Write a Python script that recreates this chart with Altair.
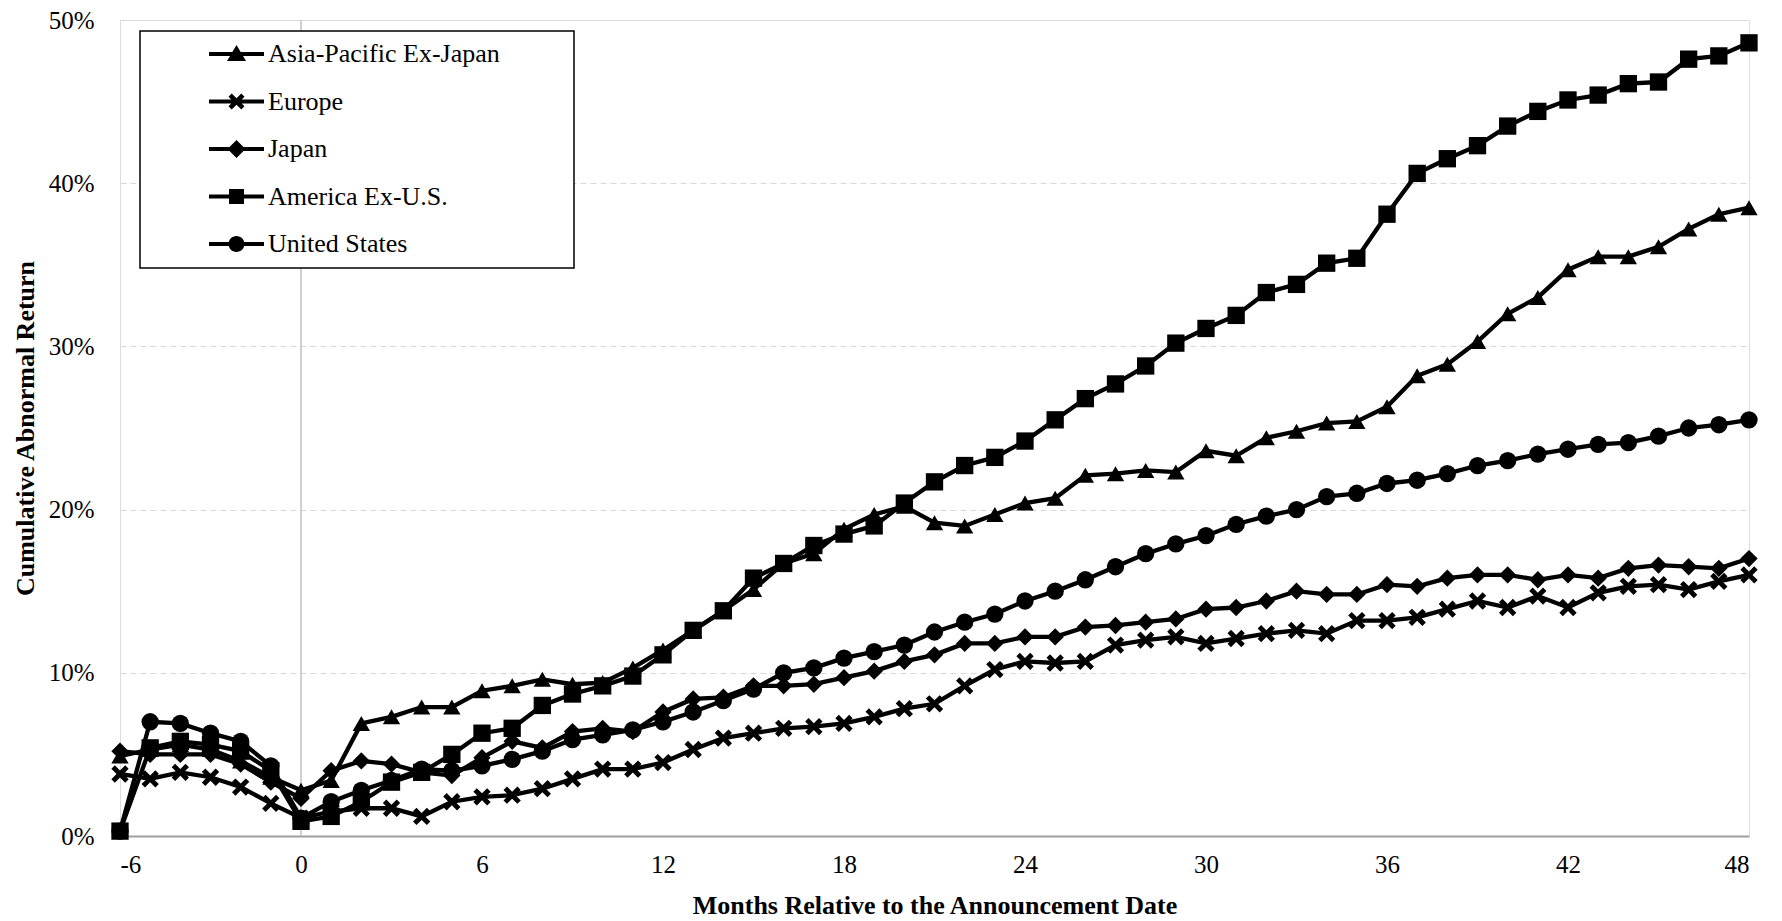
import altair as alt
import pandas as pd

months = list(range(-6, 49))
series_names = ["Asia-Pacific Ex-Japan", "Europe", "Japan", "America Ex-U.S.", "United States"]

asia = [4.9, 5.3, 5.6, 5.3, 4.6, 3.6,
        2.8, 3.4, 6.9, 7.3, 7.9, 7.9, 8.9, 9.2, 9.6, 9.3,
        9.4, 10.3, 11.4, 12.6, 13.8, 15.1, 16.7, 17.3, 18.8, 19.7,
        20.2, 19.2, 19.0, 19.7, 20.4, 20.7, 22.1, 22.2, 22.4, 22.3,
        23.6, 23.3, 24.4, 24.8, 25.3, 25.4, 26.3, 28.2, 28.9, 30.3,
        32.0, 33.0, 34.7, 35.5, 35.5, 36.1, 37.2, 38.1, 38.5]
europe = [3.8, 3.5, 3.9, 3.6, 3.0, 2.0,
          1.1, 1.5, 1.7, 1.7, 1.2, 2.1, 2.4, 2.5, 2.9, 3.5,
          4.1, 4.1, 4.5, 5.3, 6.0, 6.3, 6.6, 6.7, 6.9, 7.3,
          7.8, 8.1, 9.2, 10.2, 10.7, 10.6, 10.7, 11.7, 12.0, 12.2,
          11.8, 12.1, 12.4, 12.6, 12.4, 13.2, 13.2, 13.4, 13.9, 14.4,
          14.0, 14.7, 14.0, 14.9, 15.3, 15.4, 15.1, 15.6, 16.0]
japan = [5.2, 5.0, 5.0, 5.0, 4.4, 3.3,
         2.3, 4.0, 4.6, 4.4, 3.9, 3.7, 4.8, 5.8, 5.4, 6.4,
         6.6, 6.4, 7.6, 8.4, 8.5, 9.2, 9.2, 9.3, 9.7, 10.1,
         10.7, 11.1, 11.8, 11.8, 12.2, 12.2, 12.8, 12.9, 13.1, 13.3,
         13.9, 14.0, 14.4, 15.0, 14.8, 14.8, 15.4, 15.3, 15.8, 16.0,
         16.0, 15.7, 16.0, 15.8, 16.4, 16.6, 16.5, 16.4, 17.0]
america = [0.3, 5.4, 5.8, 5.6, 5.2, 4.0,
           0.9, 1.2, 2.1, 3.3, 3.9, 5.0, 6.3, 6.6, 8.0, 8.7,
           9.2, 9.8, 11.1, 12.6, 13.8, 15.8, 16.7, 17.8, 18.5, 19.0,
           20.4, 21.7, 22.7, 23.2, 24.2, 25.5, 26.8, 27.7, 28.8, 30.2,
           31.1, 31.9, 33.3, 33.8, 35.1, 35.4, 38.1, 40.6, 41.5, 42.3,
           43.5, 44.4, 45.1, 45.4, 46.1, 46.2, 47.6, 47.8, 48.6]
us = [0.3, 7.0, 6.9, 6.3, 5.8, 4.3,
      1.1, 2.1, 2.8, 3.4, 4.1, 4.0, 4.3, 4.7, 5.2, 5.9,
      6.2, 6.5, 7.0, 7.6, 8.3, 9.0, 10.0, 10.3, 10.9, 11.3,
      11.7, 12.5, 13.1, 13.6, 14.4, 15.0, 15.7, 16.5, 17.3, 17.9,
      18.4, 19.1, 19.6, 20.0, 20.8, 21.0, 21.6, 21.8, 22.2, 22.7,
      23.0, 23.4, 23.7, 24.0, 24.1, 24.5, 25.0, 25.2, 25.5]

x_ticks = list(range(-6, 49, 6))
y_ticks = [0, 10, 20, 30, 40, 50]

rows = []
for name, vals in zip(series_names, [asia, europe, japan, america, us]):
    for m, v in zip(months, vals):
        rows.append({"month": m, "value": v, "series": name})
df = pd.DataFrame(rows)

FONT = "Liberation Serif, Times New Roman, Tinos, DejaVu Serif, serif"

X_PATH = "M-1,-0.6L-0.6,-1L0,-0.4L0.6,-1L1,-0.6L0.4,0L1,0.6L0.6,1L0,0.4L-0.6,1L-1,0.6L-0.4,0Z"
point_shapes = ["triangle-up", X_PATH, "diamond", "square", "circle"]

LINE = "M-2.75,-0.2H2.75V0.2H-2.75Z"
leg_markers = [
    "M0,-0.9L0.95,0.7L-0.95,0.7Z",
    "M-0.8,-0.48L-0.48,-0.8L0,-0.32L0.48,-0.8L0.8,-0.48L0.32,0L0.8,0.48L0.48,0.8L0,0.32L-0.48,0.8L-0.8,0.48L-0.32,0Z",
    "M0,-0.9L0.9,0L0,0.9L-0.9,0Z",
    "M-0.75,-0.75H0.75V0.75H-0.75Z",
    "M-0.8,0A0.8,0.8,0,1,1,0.8,0A0.8,0.8,0,1,1,-0.8,0Z",
]
legend_shapes = [LINE + mk for mk in leg_markers]

x_enc = alt.X(
    "month:Q",
    scale=alt.Scale(domain=[-6, 48], nice=False, zero=False),
    axis=alt.Axis(
        values=x_ticks, labelExpr="'' + datum.value",
        title="Months Relative to the Announcement Date",
        grid=False, ticks=False, domainColor="#a0a0a0", domainWidth=2,
        labelFont=FONT, labelFontSize=25, labelColor="black", labelPadding=16,
        labelAngle=0, titleFont=FONT, titleFontSize=26, titleFontWeight="bold",
        titleColor="black", titleY=77, titleBaseline="alphabetic",
    ),
)
y_enc = alt.Y(
    "value:Q",
    scale=alt.Scale(domain=[0, 50], nice=False),
    axis=alt.Axis(
        values=y_ticks, labelExpr="datum.value + '%'", domain=False, ticks=False,
        grid=True, gridColor="#d9d9d9", gridDash=[6, 4], gridWidth=1,
        labelFont=FONT, labelFontSize=25, labelColor="black", labelPadding=26,
        title="Cumulative Abnormal Return", titleFont=FONT, titleFontSize=26,
        titleFontWeight="bold", titleColor="black", titleX=-95, titleY=408,
        titleBaseline="middle", titleAlign="center", titleAngle=270,
    ),
)

zero_rule = alt.Chart(pd.DataFrame({"month": [0]})).mark_rule(
    color="#c0c0c0", strokeWidth=1.5
).encode(x="month:Q")

legend_frame = alt.Chart(pd.DataFrame({"k": [0]})).mark_rect(
    fill="white", stroke="black", strokeWidth=1.5
).encode(x=alt.value(20), x2=alt.value(454), y=alt.value(11), y2=alt.value(248))

lines = alt.Chart(df).mark_line(color="black", strokeWidth=4.3).encode(
    x=x_enc, y=y_enc, detail="series:N"
)

points = alt.Chart(df).mark_point(
    filled=True, color="black", opacity=1, size=300, strokeWidth=0
).encode(
    x="month:Q",
    y="value:Q",
    shape=alt.Shape(
        "series:N",
        scale=alt.Scale(domain=series_names, range=point_shapes),
        legend=None,
    ),
)

legend_layer = alt.Chart(df).transform_filter("false").mark_point(
    filled=True, color="black", opacity=1, size=400, strokeWidth=0
).encode(
    x="month:Q",
    y="value:Q",
    shape=alt.Shape(
        "series:N",
        scale=alt.Scale(domain=series_names, range=legend_shapes),
        legend=alt.Legend(
            title=None, orient="none", legendX=20, legendY=11, padding=10,
            labelFont=FONT, labelFontSize=26, labelColor="black",
            labelOffset=18.5, symbolSize=400, symbolOffset=73.5,
            symbolStrokeWidth=0, symbolFillColor="black", symbolOpacity=1,
            rowPadding=21.5, labelLimit=600,
        ),
    ),
)

chart = alt.layer(zero_rule, legend_frame, lines, points, legend_layer).resolve_scale(
    shape="independent"
).resolve_legend(shape="independent").properties(
    width=1629, height=816,
    autosize=alt.AutoSizeParams(type="none"),
    padding={"left": 112, "top": 12, "right": 22, "bottom": 90},
).configure_view(stroke=None).configure(background="white")

chart.save("out.html", embed_options={"renderer": "svg", "actions": False})
